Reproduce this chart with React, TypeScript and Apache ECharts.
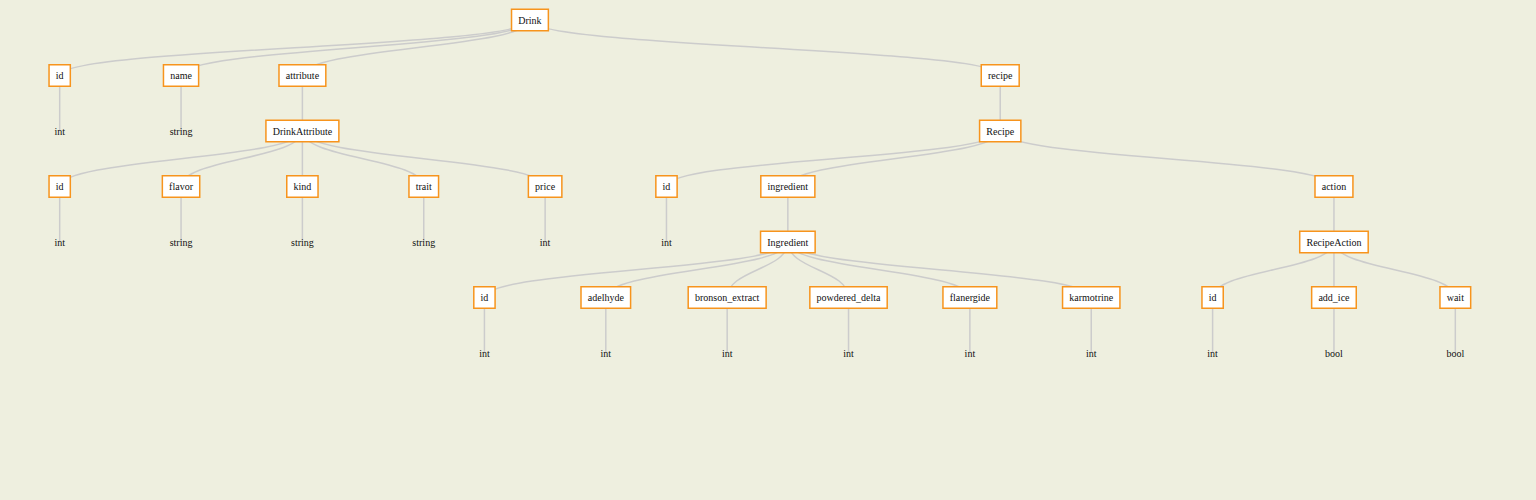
import React, { useEffect, useRef } from 'react';
import * as echarts from 'echarts';

const drinkFields = ['id', 'name'];
const drinkFieldTypes = ['int', 'string'];
const attributeFields = ['id', 'flavor', 'kind', 'trait', 'price'];
const attributeTypes = ['int', 'string', 'string', 'string', 'int'];
const ingredientFields = ['id', 'adelhyde', 'bronson_extract', 'powdered_delta', 'flanergide', 'karmotrine'];
const ingredientTypes = ['int', 'int', 'int', 'int', 'int', 'int'];
const actionFields = ['id', 'add_ice', 'wait'];
const actionTypes = ['int', 'bool', 'bool'];

const leaf = (t: string) => ({ name: t, label: { backgroundColor: 'transparent', borderWidth: 0 } });
const fields = (names: string[], types: string[]) =>
    names.map((n, i) => ({ name: n, children: [leaf(types[i])] }));

const treeData = {
    name: 'Drink',
    children: [
        ...fields(drinkFields, drinkFieldTypes),
        { name: 'attribute', children: [{ name: 'DrinkAttribute', children: fields(attributeFields, attributeTypes) }] },
        {
            name: 'recipe',
            children: [{
                name: 'Recipe',
                children: [
                    { name: 'id', children: [leaf('int')] },
                    { name: 'ingredient', children: [{ name: 'Ingredient', children: fields(ingredientFields, ingredientTypes) }] },
                    { name: 'action', children: [{ name: 'RecipeAction', children: fields(actionFields, actionTypes) }] },
                ],
            }],
        },
    ],
};

export default function App() {
    const chartRef = useRef<HTMLDivElement | null>(null);

    useEffect(() => {
        document.body.style.margin = '0';
        if (!chartRef.current) return;
        const chart = echarts.init(chartRef.current, null, { renderer: 'svg' });
        chart.setOption({
            animation: false,
            backgroundColor: '#eeefdf',
            series: [{
                type: 'tree',
                data: [treeData],
                orient: 'TB',
                left: -1,
                right: 20,
                top: 20,
                bottom: 147,
                symbol: 'rect',
                symbolSize: 1,
                expandAndCollapse: false,
                initialTreeDepth: -1,
                itemStyle: { color: 'transparent', borderWidth: 0 },
                lineStyle: { color: '#cccccc', width: 1.5, curveness: 0.5 },
                label: {
                    position: 'inside',
                    fontFamily: 'Liberation Serif, serif',
                    fontSize: 10,
                    color: '#111',
                    backgroundColor: '#ffffff',
                    borderColor: '#f7941d',
                    borderWidth: 1.5,
                    padding: [5, 6],
                },
                leaves: { label: { position: 'inside' } },
            }],
        });
        return () => chart.dispose();
    }, []);

    return <div ref={chartRef} style={{ width: '1536px', height: '500px' }} />;
}
